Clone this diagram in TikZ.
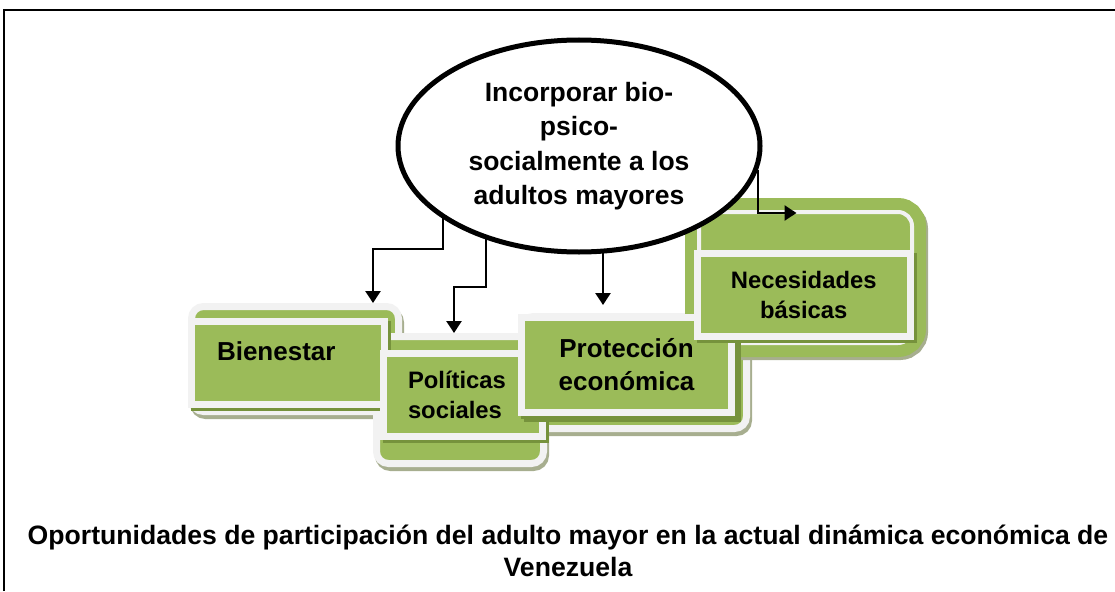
\documentclass[tikz,border=0pt]{standalone}
\usepackage{fontspec}
\setmainfont{Liberation Sans}
\usepackage{tikz}
\usetikzlibrary{shapes.geometric, arrows.meta, shadows, backgrounds, calc}
\definecolor{boxgreen}{HTML}{9BBB59}
\definecolor{rimwhite}{HTML}{F2F2F2}
\definecolor{shadowolive}{HTML}{76923C}
\definecolor{shadowgray}{HTML}{A7AE8F}
\tikzstyle{backbox} = [rectangle, rounded corners=12pt, draw=rimwhite, line width=7pt, fill=boxgreen, inner sep=0pt, drop shadow={shadow xshift=2pt, shadow yshift=-4pt, opacity=1, fill=shadowgray, draw=shadowgray}]
\tikzstyle{frontbox} = [rectangle, draw=rimwhite, line width=7pt, fill=boxgreen, inner sep=0pt, drop shadow={shadow xshift=3pt, shadow yshift=-3pt, opacity=1, fill=shadowolive, draw=shadowolive}]
\tikzstyle{bigtext} = [font=\fontsize{26}{33}\selectfont\bfseries, align=center]
\tikzstyle{smalltext} = [font=\fontsize{23.8}{30.5}\selectfont\bfseries, align=center]
\tikzstyle{arrow} = [line width=2.5pt, -{Triangle[width=15pt,length=12pt]}]

\begin{document}
\begin{tikzpicture}[x=1pt, y=-1pt]
    \useasboundingbox (0,0) rectangle (1115,591);
    % Frame
    \draw [line width=1.6pt] (4,591) -- (4,10) -- (1115,10);

    % Central idea
    \node (ell) at (579,146) [ellipse, draw, line width=5pt, fill=white, minimum width=362pt, minimum height=212pt, inner sep=0pt, font=\fontsize{26.5}{34.5}\selectfont\bfseries, align=center] {Incorporar bio-\\psico-\\socialmente a los\\adultos mayores};

    \begin{scope}[on background layer]
    % Back panels
    \node (bienback) at (295,359) [backbox, minimum width=207pt, minimum height=105pt] {};
    \node (polback) at (460,400) [backbox, minimum width=167pt, minimum height=127pt] {};
    \node (protback) at (634,372.5) [backbox, minimum width=225pt, minimum height=112pt] {};
    \node (neceback) at (805.5,277.5) [rectangle, rounded corners=14pt, draw=boxgreen, double=rimwhite, double distance=4pt, line width=12pt, fill=boxgreen, inner sep=0pt, outer sep=0pt, minimum width=213pt, minimum height=131pt, drop shadow={shadow xshift=2pt, shadow yshift=-3pt, opacity=1, fill=shadowgray, draw=shadowgray, line width=28pt}] {};

    % Front panels
    \node (bienfront) at (288,363) [frontbox, bigtext, align=left, text width=142pt, text depth=24.6pt, minimum width=193pt, minimum height=83pt] {Bienestar};
    \node (polfront) at (463,395) [frontbox, smalltext, align=left, text width=110pt, minimum width=159pt, minimum height=83pt] {Políticas\\sociales};
    \node (protfront) at (626.5,365) [frontbox, bigtext, minimum width=210pt, minimum height=95pt, drop shadow={shadow xshift=6pt, shadow yshift=-6pt, opacity=1, fill=shadowolive, draw=shadowolive}] {Protección\\económica};
    \node (necefront) at (803.75,295) [frontbox, smalltext, minimum width=212.5pt, minimum height=83pt] {Necesidades\\básicas};

    % Arrows
    \draw [arrow] ([xshift=-136pt]ell.center) -- ++(0,103) -| ([xshift=78pt]bienback.north);
    \draw [arrow] ([xshift=-93pt]ell.center) -- ++(0,141) -| ([xshift=-6pt]polback.north);
    \draw [arrow, shorten >=8pt] ([xshift=24pt]ell.center) -- ([xshift=24pt]ell.center |- protback.north);
    \draw [arrow] ([xshift=179pt,yshift=-24pt]ell.center) |- ([xshift=-9pt,yshift=-1pt]neceback.north);
    \end{scope}

    % Caption
    \node (caption) at (568,551) [bigtext, font=\fontsize{26.6}{32}\selectfont\bfseries] {Oportunidades de participación del adulto mayor en la actual dinámica económica de\\Venezuela};
\end{tikzpicture}
\end{document}
